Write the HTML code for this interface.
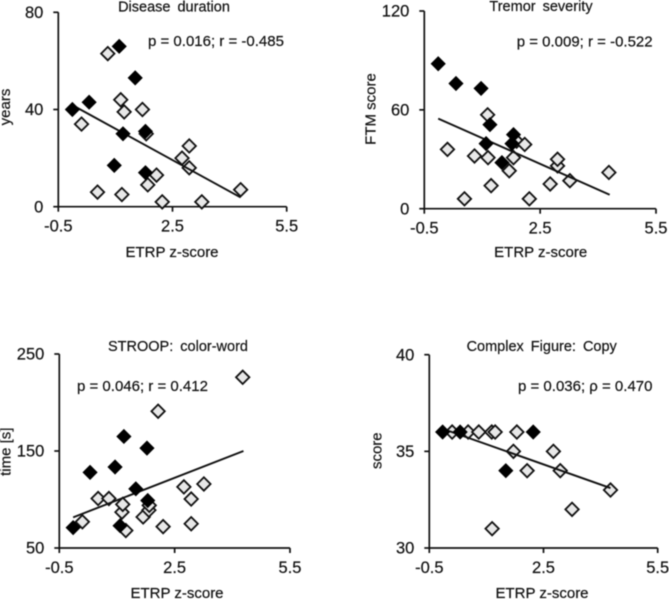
<!DOCTYPE html>
<html>
<head>
<meta charset="utf-8">
<title>ETRP z-score correlations</title>
<style>
html,body{margin:0;padding:0;background:#fff;width:669px;height:599px;overflow:hidden}
svg{display:block;filter:blur(0.45px)}
text{font-family:"Liberation Sans",Arial,sans-serif;fill:#111;stroke:#111;stroke-width:0.2px}
.tick{font-size:16.5px}
.lab{font-size:15px}
.ttl{font-size:14.5px;word-spacing:3px}
</style>
</head>
<body>
<svg id="chart" width="669" height="599" viewBox="0 0 669 599" xmlns="http://www.w3.org/2000/svg"></svg>
<script>
// Shared x-axis tick labels
var xTicks = ["-0.5", "2.5", "5.5"];

// Disease duration
var durationYTicks = ["0", "40", "80"];
var durationFilledX = [-0.13, 0.31, 1.10, 1.52, 1.20, 0.97, 1.79, 1.79];
var durationFilledY = [40, 43, 66, 53, 30, 17, 31, 14];
var durationHollowX = [0.11, 0.53, 0.80, 1.14, 1.23, 1.17, 1.71, 1.81, 1.85, 2.08, 2.23, 2.75, 2.94, 2.94, 3.27, 4.29];
var durationHollowY = [34, 6, 63, 44, 39, 5, 40, 30, 9, 13, 2, 20, 25, 16, 2, 7];
var durationTrendX = [-0.13, 4.29];
var durationTrendY = [41.8, 3.8];

// Tremor severity
var tremorYTicks = ["0", "60", "120"];
var tremorFilledX = [-0.14, 0.32, 0.97, 1.10, 1.20, 1.51, 1.81, 1.77];
var tremorFilledY = [88, 76, 73, 39.5, 51, 28, 45, 39.5];
var tremorHollowX = [0.10, 0.54, 0.80, 1.14, 1.15, 1.23, 1.70, 1.89, 1.81, 2.10, 2.22, 2.76, 2.95, 2.95, 3.27, 4.28];
var tremorHollowY = [36, 6, 32, 57, 31, 14, 23, 41, 31, 39, 6, 15, 26, 30, 17, 22];
var tremorTrendX = [-0.14, 4.30];
var tremorTrendY = [54.7, 8.5];

// STROOP: color-word
var stroopYTicks = ["50", "150", "250"];
var stroopFilledX = [-0.14, 0.30, 0.95, 1.18, 1.08, 1.49, 1.78, 1.80];
var stroopFilledY = [71, 128, 133.5, 165, 73, 111, 153, 99];
var stroopHollowX = [0.10, 0.51, 0.79, 1.13, 1.15, 1.23, 1.68, 1.83, 1.84, 2.07, 2.20, 2.74, 2.93, 2.93, 3.26, 4.27];
var stroopHollowY = [77, 101, 101, 87, 95, 68, 82, 89, 94, 191, 72, 113, 100.5, 75, 116, 226];
var stroopTrendX = [-0.14, 4.29];
var stroopTrendY = [81.6, 150];

// Complex Figure: Copy
var figureYTicks = ["30", "35", "40"];
var figureFilledX = [-0.15, 0.31, 1.51, 2.23];
var figureFilledY = [36, 36, 34, 36];
var figureHollowX = [0.10, 0.52, 0.80, 1.14, 1.23, 1.80, 1.71, 2.07, 2.76, 2.94, 3.25, 1.15, 4.26];
var figureHollowY = [36, 36, 36, 36, 36, 36, 35, 34, 35, 34, 32, 31, 33];
var figureTrendX = [-0.05, 4.26];
var figureTrendY = [36.1, 33.1];

var NS = "http://www.w3.org/2000/svg";
var root = document.getElementById("chart");

function make(tag, parent, attrs) {
  var el = document.createElementNS(NS, tag);
  for (var k in attrs) el.setAttribute(k, attrs[k]);
  parent.appendChild(el);
  return el;
}

function addText(parent, cls, x, y, anchor, str) {
  var t = make("text", parent, {"class": cls, x: x, y: y, "text-anchor": anchor});
  t.textContent = str;
  return t;
}

function drawPanel(p) {
  var g = make("g", root, {});
  
  

  var xMin = parseFloat(xTicks[0]);
  var xMax = parseFloat(xTicks[xTicks.length - 1]);
  var yMin = parseFloat(p.yTicks[0]);
  var yMax = parseFloat(p.yTicks[p.yTicks.length - 1]);
  function sx(v) { return p.left + (v - xMin) / (xMax - xMin) * (p.right - p.left); }
  function sy(v) { return p.bottom - (v - yMin) / (yMax - yMin) * (p.bottom - p.top); }

  var xAxis = make("line", g, {x1: p.left, x2: p.right, y1: p.bottom, y2: p.bottom, stroke: "#111", "stroke-width": 1.7});
  
  
  var yAxis = make("line", g, {x1: p.left, x2: p.left, y1: p.top, y2: p.bottom, stroke: "#111", "stroke-width": 1.7});
  
  

  xTicks.forEach(function (label) {
    var v = parseFloat(label);
    var tick = make("line", g, {x1: sx(v), x2: sx(v), y1: p.bottom, y2: p.bottom + 5, stroke: "#111", "stroke-width": 1.7});
    
    
    var t = addText(g, "tick", sx(v), p.bottom + 25, "middle", label);
    
    
  });

  p.yTicks.forEach(function (label) {
    var v = parseFloat(label);
    var tick = make("line", g, {x1: p.left - 5, x2: p.left, y1: sy(v), y2: sy(v), stroke: "#111", "stroke-width": 1.7});
    
    
    var t = addText(g, "tick", p.left - 15, sy(v) + 5.7, "end", label);
    
    
  });

  function diamond(cx, cy, r) {
    return (cx - r) + "," + cy + " " + cx + "," + (cy - r) + " " + (cx + r) + "," + cy + " " + cx + "," + (cy + r);
  }

  p.hollowX.forEach(function (xv, i) {
    var m = make("polygon", g, {points: diamond(sx(xv), sy(p.hollowY[i]), 6.7), fill: "#e8e8e8", stroke: "#111", "stroke-width": 1.8});
    
    
  });

  var trend = make("line", g, {x1: sx(p.trendX[0]), y1: sy(p.trendY[0]), x2: sx(p.trendX[1]), y2: sy(p.trendY[1]), stroke: "#111", "stroke-width": 1.9});
  
  

  p.filledX.forEach(function (xv, i) {
    var m = make("polygon", g, {points: diamond(sx(xv), sy(p.filledY[i]), 7.6), fill: "#000", stroke: "none"});
    
    
  });

  var title = addText(g, "ttl", p.titleX, p.titleY, "middle", p.title);
  
  

  var stat = addText(g, "lab", p.statX, p.statY, "start", p.stat);
  
  

  var xTitle = addText(g, "lab", p.xTitleX, p.xTitleY, "middle", "ETRP z-score");
  
  

  var yTitle = addText(g, "lab", 0, 0, "middle", p.yTitle);
  yTitle.setAttribute("transform", "translate(" + p.yTitleX + "," + p.yTitleY + ") rotate(-90)");
  
  
}

drawPanel({
  name: "disease-duration", left: 58.3, right: 286.7, top: 12.3, bottom: 206.7,
  yTicks: durationYTicks, filledX: durationFilledX, filledY: durationFilledY,
  hollowX: durationHollowX, hollowY: durationHollowY, trendX: durationTrendX, trendY: durationTrendY,
  title: "Disease duration", titleX: 174, titleY: 11.5,
  stat: "p = 0.016; r = -0.485", statX: 148, statY: 46,
  xTitleX: 172, xTitleY: 257, yTitle: "years", yTitleX: 10, yTitleY: 107
});
drawPanel({
  name: "tremor-severity", left: 424.3, right: 656, top: 11, bottom: 208.7,
  yTicks: tremorYTicks, filledX: tremorFilledX, filledY: tremorFilledY,
  hollowX: tremorHollowX, hollowY: tremorHollowY, trendX: tremorTrendX, trendY: tremorTrendY,
  title: "Tremor severity", titleX: 541, titleY: 11,
  stat: "p = 0.009; r = -0.522", statX: 516.7, statY: 46.5,
  xTitleX: 540.7, xTitleY: 257, yTitle: "FTM score", yTitleX: 375.7, yTitleY: 109
});
drawPanel({
  name: "stroop-color-word", left: 59.3, right: 290, top: 354, bottom: 548,
  yTicks: stroopYTicks, filledX: stroopFilledX, filledY: stroopFilledY,
  hollowX: stroopHollowX, hollowY: stroopHollowY, trendX: stroopTrendX, trendY: stroopTrendY,
  title: "STROOP: color-word", titleX: 178, titleY: 351,
  stat: "p = 0.046; r = 0.412", statX: 77, statY: 391,
  xTitleX: 177, xTitleY: 598, yTitle: "time [s]", yTitleX: 10.5, yTitleY: 451.7
});
drawPanel({
  name: "complex-figure-copy", left: 429.3, right: 657.7, top: 354.7, bottom: 548,
  yTicks: figureYTicks, filledX: figureFilledX, filledY: figureFilledY,
  hollowX: figureHollowX, hollowY: figureHollowY, trendX: figureTrendX, trendY: figureTrendY,
  title: "Complex Figure: Copy", titleX: 541.7, titleY: 351,
  stat: "p = 0.036; \u03C1 = 0.470", statX: 518, statY: 391,
  xTitleX: 542, xTitleY: 598, yTitle: "score", yTitleX: 381.7, yTitleY: 450.7
});
</script>
</body>
</html>
